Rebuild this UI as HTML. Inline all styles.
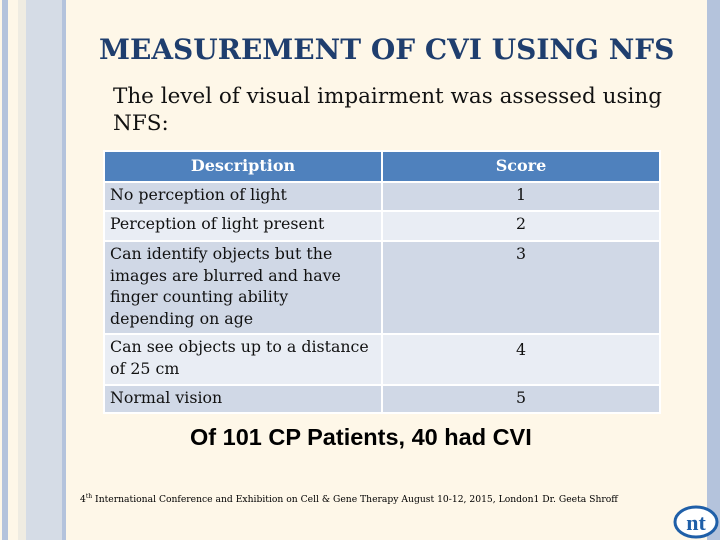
<!DOCTYPE html>
<html><head><meta charset="utf-8"><style>
*{margin:0;padding:0;box-sizing:border-box}
body{width:720px;height:540px;position:relative;overflow:hidden;background:#fef7e8;font-family:"DejaVu Serif",serif}
.s{position:absolute;top:0;height:540px}
table{position:absolute;left:103px;top:150px;width:558px;border-collapse:collapse;table-layout:fixed}
td,th{border:2px solid #fff;font-size:15.8px;color:#111;vertical-align:top;padding:1px 5px 0 5px;line-height:21.5px}
th{background:#4f81bd;color:#fff;font-weight:bold;height:31px;padding-top:3px;font-size:16px}
.a td{background:#d0d8e6}.b td{background:#e9edf4}
td.c{text-align:center}
</style></head><body>
<div class="s" style="left:2px;width:6px;background:#b4c3dc"></div>
<div class="s" style="left:18px;width:8px;background:#efece2"></div>
<div class="s" style="left:26px;width:36px;background:#d5dce6"></div>
<div class="s" style="left:62px;width:4px;background:#b4c3dc"></div>
<div class="s" style="left:707px;width:13px;background:#b4c3dc"></div>
<div style="position:absolute;left:99px;top:33px;font-size:28px;font-weight:bold;color:#1f3e6e;white-space:nowrap">MEASUREMENT OF CVI USING NFS</div>
<div style="position:absolute;left:113px;top:83px;font-size:21.5px;line-height:27px;color:#111;width:575px">The level of visual impairment was assessed using NFS:</div>
<table>
<tr><th style="width:278px">Description</th><th>Score</th></tr>
<tr class="a"><td style="height:29px">No perception of light</td><td class="c">1</td></tr>
<tr class="b"><td style="height:30px">Perception of light present</td><td class="c">2</td></tr>
<tr class="a"><td style="height:93px">Can identify objects but the images are blurred and have finger counting ability depending on age</td><td class="c">3</td></tr>
<tr class="b"><td style="height:51px">Can see objects up to a distance of 25 cm</td><td class="c" style="padding-top:4px">4</td></tr>
<tr class="a"><td style="height:28px">Normal vision</td><td class="c">5</td></tr>
</table>
<div style="position:absolute;left:190px;top:424px;font-family:'Liberation Sans',sans-serif;font-weight:bold;font-size:23.5px;color:#000;white-space:nowrap">Of 101 CP Patients, 40 had CVI</div>
<div style="position:absolute;left:80px;top:493px;font-size:9.2px;color:#000;white-space:nowrap">4<sup style="font-size:6px">th</sup> International Conference and Exhibition on Cell &amp; Gene Therapy August 10-12, 2015, London1 Dr. Geeta Shroff</div>
<svg style="position:absolute;left:673px;top:505px" width="46" height="34"><ellipse cx="23" cy="17" rx="21" ry="15" fill="#fff" stroke="#1f5fa8" stroke-width="3"/><text x="23" y="25" text-anchor="middle" font-family="Liberation Serif" font-weight="bold" font-size="22" fill="#1f5fa8">nt</text></svg>
</body></html>
